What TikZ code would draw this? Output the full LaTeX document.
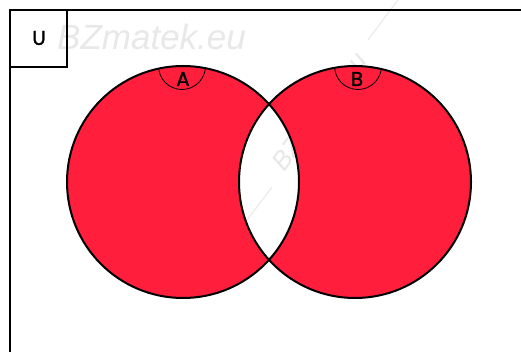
\documentclass[tikz,border=0pt]{standalone}
\usepackage{fontspec}
\setmainfont{Liberation Sans}
\newfontfamily\lblfont[FakeBold=1.2]{Poppins}
\definecolor{vennred}{RGB}{255,30,60}
\definecolor{wmark}{RGB}{232,232,232}
\tikzset{
  outline/.style={draw=black, line width=2pt},
  thinarc/.style={draw=black, line width=0.8pt},
  lbl/.style={font=\lblfont\fontsize{20}{20}\selectfont, text=black, inner sep=0pt},
  wm/.style={text=wmark, inner sep=0pt}
}
\begin{document}
\begin{tikzpicture}[x=1pt,y=-1pt]
\useasboundingbox (0,0) rectangle (521,352);
\fill[white] (0,0) rectangle (521,352);
% watermark
\node[wm, anchor=base west, font=\fontsize{35}{35}\selectfont\itshape] (wm1) at (57,50) {BZmatek.eu};
\node[wm, rotate=53, font=\fontsize{26}{26}\selectfont\itshape] (wm2) at (319,111) {BZmatek.eu};
\coordinate (l1) at (238,232);
\coordinate (l2) at (272,187);
\coordinate (l3) at (368,40);
\coordinate (l4) at (400,-3);
\draw[wmark, line width=1pt] (l1) -- (l2);
\draw[wmark, line width=1pt] (l3) -- (l4);
% frame
\coordinate (fa) at (10,10);
\coordinate (fb) at (530,362);
\draw[black, line width=2.2pt] (fa) rectangle (fb);
\coordinate (ub) at (67,67);
\draw[black, line width=2.2pt] (fa) rectangle (ub);
\node[lbl] (U) at (39,38) {U};
% circles
\coordinate (A) at (183,182);
\coordinate (B) at (355,182);
\fill[vennred, even odd rule] (A) circle (116) (B) circle (116);
\draw[outline] (A) circle (116);
\draw[outline] (B) circle (116);
% small arcs
\coordinate (At) at (182,66);
\coordinate (Bt) at (358,66);
\begin{scope}
\clip (A) circle (116);
\draw[thinarc] (At) ++(23.5,0) arc[start angle=0, end angle=180, radius=23.5];
\end{scope}
\begin{scope}
\clip (B) circle (116);
\draw[thinarc] (Bt) ++(23.5,0) arc[start angle=0, end angle=180, radius=23.5];
\end{scope}
\node[lbl] (LA) at (183,79) {A};
\node[lbl] (LB) at (357,79) {B};
\end{tikzpicture}
\end{document}
